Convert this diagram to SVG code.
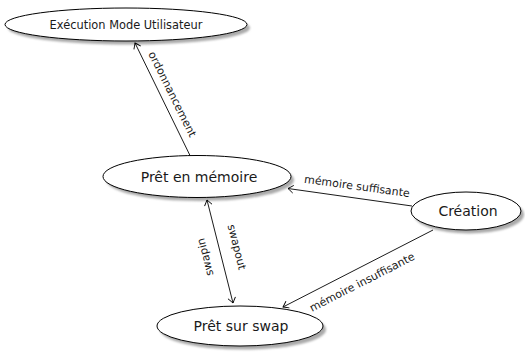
<svg xmlns="http://www.w3.org/2000/svg" width="525" height="354" viewBox="0 0 525 354">
<defs>
<filter id="blur" x="-10%" y="-20%" width="120%" height="140%"><feGaussianBlur stdDeviation="0.8"/></filter>
<marker id="arr" viewBox="-6 -5 8 10" markerWidth="8" markerHeight="10" refX="0" refY="0" orient="auto-start-reverse" markerUnits="userSpaceOnUse">
<path d="M -5,-3.6 Q -1.2,-0.8 0,0 Q -1.2,0.8 -5,3.6" fill="none" stroke="#000" stroke-width="0.9" stroke-linecap="round"/>
</marker>
</defs>
<style>
.shadow{fill:#aaaaaa;filter:url(#blur)}
.node{fill:#fff;stroke:#000;stroke-width:1}
.lbl{font-family:"DejaVu Sans",sans-serif;font-size:14px;fill:#1a1a1a;text-anchor:middle}
.small{font-size:11.4px}
.edge{stroke:#000;stroke-width:0.9;fill:none}
.elbl{font-family:"DejaVu Sans",sans-serif;font-size:11px;fill:#1a1a1a;text-anchor:middle}
</style>
<rect width="525" height="354" fill="#fff"/>
<g id="n-execution">
<ellipse class="shadow" cx="129" cy="28" rx="121" ry="16.5"/>
<ellipse class="node" cx="126" cy="24.5" rx="121" ry="16.5"/>
<text class="lbl small" x="126" y="28.5">Exécution Mode Utilisateur</text>
</g>
<g id="n-memoire">
<ellipse class="shadow" cx="200" cy="180" rx="94" ry="21"/>
<ellipse class="node" cx="197" cy="176.5" rx="94" ry="21"/>
<text class="lbl" x="199" y="181.5">Prêt en mémoire</text>
</g>
<g id="n-creation">
<ellipse class="shadow" cx="469" cy="214.5" rx="55" ry="19"/>
<ellipse class="node" cx="466" cy="211" rx="55" ry="19"/>
<text class="lbl" x="468" y="216">Création</text>
</g>
<g id="n-swap">
<ellipse class="shadow" cx="243" cy="329.5" rx="83" ry="20"/>
<ellipse class="node" cx="240" cy="326" rx="83" ry="20"/>
<text class="lbl" x="241" y="331">Prêt sur swap</text>
</g>
<g id="edges">
<line class="edge" x1="190" y1="155.5" x2="135" y2="43" marker-end="url(#arr)"/>
<line class="edge" x1="412" y1="206" x2="288" y2="188.5" marker-end="url(#arr)"/>
<line class="edge" x1="433" y1="230" x2="283" y2="307" marker-end="url(#arr)"/>
<line class="edge" x1="207" y1="200" x2="233" y2="303" marker-start="url(#arr)" marker-end="url(#arr)"/>
<text class="elbl" transform="translate(172.5,94) rotate(63.6)" dy="3.9">ordonnancement</text>
<text class="elbl" transform="translate(357,186) rotate(7.8)" dy="3.9">mémoire suffisante</text>
<text class="elbl" transform="translate(362,282) rotate(-27)" dy="3.9">mémoire insuffisante</text>
<text class="elbl" transform="translate(237,247) rotate(75.8)" dy="3.9">swapout</text>
<text class="elbl" transform="translate(205,257) rotate(-104.2)" dy="3.9">swapin</text>
</g>
</svg>
